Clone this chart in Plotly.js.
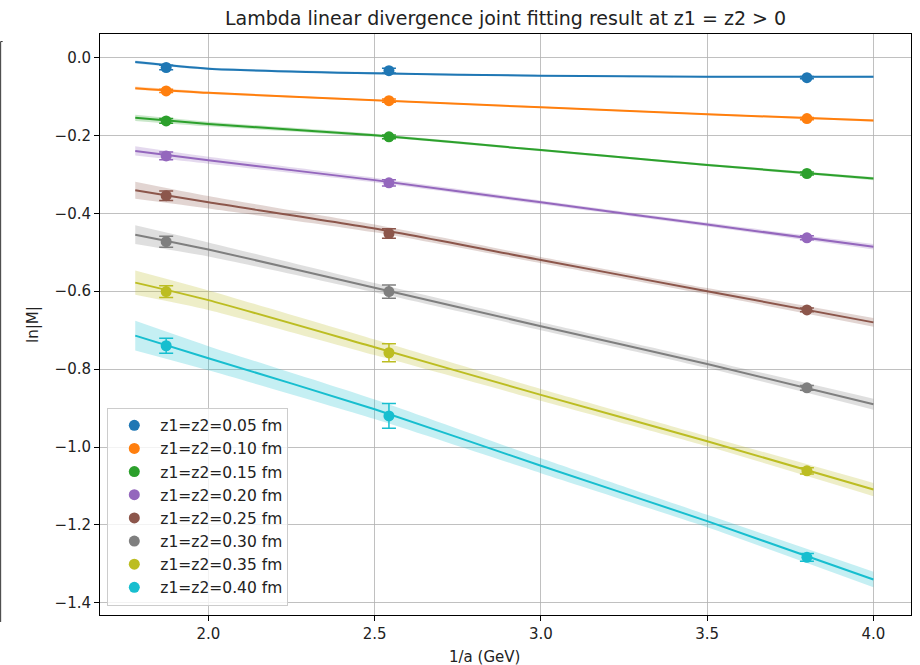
<!DOCTYPE html>
<html>
<head>
<meta charset="utf-8">
<script src="https://cdn.plot.ly/plotly-3.0.1.min.js"></script>
<style>html,body{margin:0;padding:0;background:#fff;}#chart{width:920px;height:665px;}</style>
</head>
<body>
<div id="chart"></div>
<script>
// ---- data ----
const seriesNames = ["z1=z2=0.05 fm","z1=z2=0.10 fm","z1=z2=0.15 fm","z1=z2=0.20 fm",
                     "z1=z2=0.25 fm","z1=z2=0.30 fm","z1=z2=0.35 fm","z1=z2=0.40 fm"];
const seriesColors = ["#1f77b4","#ff7f0e","#2ca02c","#9467bd","#8c564b","#7f7f7f","#bcbd22","#17becf"];
const bandColors = ["rgba(31,119,180,0.25)","rgba(255,127,14,0.25)","rgba(44,160,44,0.25)","rgba(148,103,189,0.25)",
                    "rgba(140,86,75,0.25)","rgba(127,127,127,0.25)","rgba(188,189,34,0.25)","rgba(23,190,207,0.25)"];

// lattice points (1/a in GeV)
const invA = [1.873, 2.543, 3.800];
const lnM_005 = [-0.026, -0.034, -0.052];
const lnM_010 = [-0.086, -0.111, -0.157];
const lnM_015 = [-0.163, -0.204, -0.298];
const lnM_020 = [-0.253, -0.322, -0.463];
const lnM_025 = [-0.355, -0.452, -0.648];
const lnM_030 = [-0.473, -0.601, -0.848];
const lnM_035 = [-0.601, -0.758, -1.061];
const lnM_040 = [-0.740, -0.920, -1.283];
const err_005 = [0.006, 0.006, 0.003];
const err_010 = [0.004, 0.004, 0.003];
const err_015 = [0.006, 0.005, 0.004];
const err_020 = [0.010, 0.008, 0.005];
const err_025 = [0.012, 0.012, 0.005];
const err_030 = [0.014, 0.017, 0.006];
const err_035 = [0.015, 0.023, 0.008];
const err_040 = [0.019, 0.032, 0.010];

// fit curves
const fitX = [1.78, 2.0, 2.5, 3.0, 3.5, 4.0];
const fit_005 = [-0.012, -0.029, -0.041, -0.047, -0.050, -0.050];
const fit_010 = [-0.079, -0.091, -0.110, -0.128, -0.146, -0.162];
const fit_015 = [-0.155, -0.171, -0.200, -0.238, -0.276, -0.311];
const fit_020 = [-0.240, -0.264, -0.315, -0.372, -0.429, -0.486];
const fit_025 = [-0.341, -0.372, -0.439, -0.520, -0.600, -0.680];
const fit_030 = [-0.455, -0.493, -0.591, -0.690, -0.787, -0.890];
const fit_035 = [-0.578, -0.623, -0.744, -0.866, -0.985, -1.109];
const fit_040 = [-0.714, -0.772, -0.903, -1.048, -1.190, -1.340];
// half-widths of the fit bands
const band_005 = [0.004, 0.003, 0.003, 0.002, 0.002, 0.003];
const band_010 = [0.004, 0.003, 0.002, 0.002, 0.002, 0.003];
const band_015 = [0.008, 0.006, 0.004, 0.003, 0.003, 0.004];
const band_020 = [0.012, 0.009, 0.006, 0.005, 0.005, 0.007];
const band_025 = [0.022, 0.016, 0.010, 0.008, 0.008, 0.011];
const band_030 = [0.024, 0.018, 0.012, 0.010, 0.010, 0.014];
const band_035 = [0.031, 0.025, 0.020, 0.015, 0.013, 0.017];
const band_040 = [0.038, 0.031, 0.025, 0.019, 0.016, 0.020];

const yTickVals = [0.0, -0.2, -0.4, -0.6, -0.8, -1.0, -1.2, -1.4];
const xTickVals = [2.0, 2.5, 3.0, 3.5, 4.0];

const pts = [lnM_005,lnM_010,lnM_015,lnM_020,lnM_025,lnM_030,lnM_035,lnM_040];
const errs = [err_005,err_010,err_015,err_020,err_025,err_030,err_035,err_040];
const fits = [fit_005,fit_010,fit_015,fit_020,fit_025,fit_030,fit_035,fit_040];
const bands = [band_005,band_010,band_015,band_020,band_025,band_030,band_035,band_040];

const font = "DejaVu Sans, sans-serif";
const bandTraces = [], lineTraces = [], pointTraces = [];
for (let i = 0; i < seriesNames.length; i++) {
  const lo = fits[i].map((v, k) => v - bands[i][k]);
  const hi = fits[i].map((v, k) => v + bands[i][k]);
  bandTraces.push({x: fitX, y: lo, mode: "lines", line: {width: 0, shape: "spline", smoothing: 0.6}, showlegend: false, hoverinfo: "skip"});
  bandTraces.push({x: fitX, y: hi, mode: "lines", line: {width: 0, shape: "spline", smoothing: 0.6}, fill: "tonexty",
                   fillcolor: bandColors[i], showlegend: false, hoverinfo: "skip"});
  lineTraces.push({x: fitX, y: fits[i], mode: "lines", line: {color: seriesColors[i], width: 2, shape: "spline", smoothing: 0.6},
                   showlegend: false});
  pointTraces.push({x: invA, y: pts[i], mode: "markers", name: seriesNames[i],
                    marker: {color: seriesColors[i], size: 11},
                    error_y: {type: "data", array: errs[i], visible: true, color: seriesColors[i], thickness: 1.5, width: 7}});
}

const layout = {
  width: 920, height: 665,
  margin: {l: 100, r: 9, t: 34, b: 50},
  paper_bgcolor: "#fff", plot_bgcolor: "#fff",
  font: {family: font, size: 15, color: "#222"},
  title: {text: "Lambda linear divergence joint fitting result at z1 = z2 > 0",
          font: {family: font, size: 19, color: "#222"},
          xref: "paper", x: 0.5, xanchor: "center", yref: "container", y: 0.973, yanchor: "middle"},
  xaxis: {range: [1.674, 4.113], tickvals: xTickVals, tickformat: ".1f",
          showgrid: true, gridcolor: "#b0b0b0", gridwidth: 0.8, zeroline: false,
          showline: true, linecolor: "#000", linewidth: 1, mirror: true,
          ticks: "outside", ticklen: 5, tickcolor: "#000",
          tickfont: {family: font, size: 15, color: "#222"}},
  yaxis: {range: [-1.431, 0.060], tickvals: yTickVals, tickformat: ".1f",
          showgrid: true, gridcolor: "#b0b0b0", gridwidth: 0.8, zeroline: false,
          showline: true, linecolor: "#000", linewidth: 1, mirror: true,
          ticks: "outside", ticklen: 5, tickcolor: "#000",
          tickfont: {family: font, size: 15, color: "#222"},
          title: {text: "ln|M|", font: {family: font, size: 15}, standoff: 12}},
  legend: {x: 0.009, y: 0.016, xanchor: "left", yanchor: "bottom", traceorder: "normal",
           bgcolor: "rgba(255,255,255,0.8)", bordercolor: "#cccccc", borderwidth: 1,
           font: {family: font, size: 15.5, color: "#222"}, tracegroupgap: 0, itemwidth: 42},
  annotations: [
    {text: "1/a (GeV)", xref: "paper", yref: "paper", x: 0.4735, y: -0.072, xanchor: "center", yanchor: "middle",
     showarrow: false, font: {family: font, size: 15, color: "#222"}}
  ],
  shapes: [
    {type: "line", xref: "paper", yref: "paper", x0: -0.1225, x1: -0.1225, y0: -0.012, y1: 0.987,
     line: {color: "#333", width: 1}},
    {type: "line", xref: "paper", yref: "paper", x0: -0.1225, x1: -0.12, y0: 0.987, y1: 0.987,
     line: {color: "#333", width: 1}}
  ],
  showlegend: true
};

Plotly.newPlot("chart", [...bandTraces, ...lineTraces, ...pointTraces], layout, {displayModeBar: false, staticPlot: true});
</script>
</body>
</html>
